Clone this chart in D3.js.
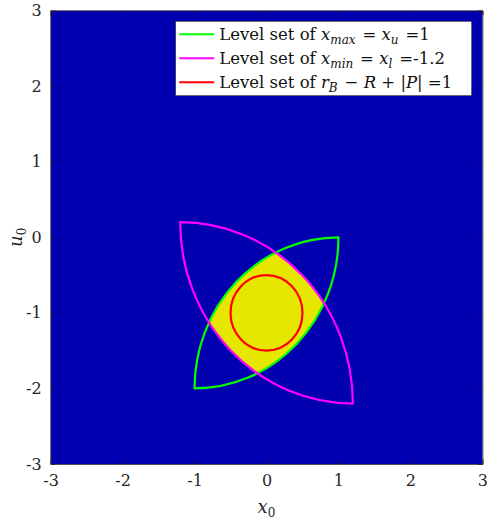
<!DOCTYPE html>
<html>
<head>
<meta charset="utf-8">
<script src="https://cdn.jsdelivr.net/npm/d3@7"></script>
<style>
  body { margin: 0; background: #fff; }
</style>
</head>
<body>
<div id="chart"></div>
<script>
// axis ticks
const xTicks = [-3, -2, -1, 0, 1, 2, 3];
const yTicks = [-3, -2, -1, 0, 1, 2, 3];

// lens corners [x0, u0]
const greenCorners = [[-1, -2], [1, 0]];
const magentaCorners = [[-1.2, 0.2], [1.2, -2.2]];

// circle r_B - R + |P| = 1
const circleCenter = [0, -1];
const circleRadius = 0.5;

const legendItems = [
  {color: '#00ff00', pre: 'Level set of ', math: [['x', 'max'], ' = ', ['x', 'u']], post: ' =1'},
  {color: '#ff00ff', pre: 'Level set of ', math: [['x', 'min'], ' = ', ['x', 'l']], post: ' =-1.2'},
  {color: '#ff0000', pre: 'Level set of ', math: [['r', 'B'], ' \u2212 ', ['R', ''], ' + |', ['P', ''], '|'], post: ' =1'}
];

const serif = '"DejaVu Serif", serif';

const width = 488;
const height = 525;
const margin = {top: 10.6, right: 5.6, bottom: 61, left: 50.6};

const svg = d3.select('#chart')
    .append('svg')
    .attr('width', width)
    .attr('height', height)
    .style('font-family', serif);

const x = d3.scaleLinear()
    .domain([-3, 3])
    .range([margin.left, width - margin.right]);
const y = d3.scaleLinear()
    .domain([-3, 3])
    .range([height - margin.bottom, margin.top]);

// background
svg.append('rect')
    .attr('x', x(-3))
    .attr('y', y(3))
    .attr('width', x(3) - x(-3))
    .attr('height', y(-3) - y(3))
    .attr('fill', '#0000b0');

// lens made of two quarter ellipses between its two corners
function lensPath(c) {
  const a = c[0];
  const b = c[1];
  const rx = Math.abs(x(b[0]) - x(a[0]));
  const ry = Math.abs(y(b[1]) - y(a[1]));
  return 'M' + x(a[0]) + ',' + y(a[1]) +
    'A' + rx + ',' + ry + ' 0 0 1 ' + x(b[0]) + ',' + y(b[1]) +
    'A' + rx + ',' + ry + ' 0 0 1 ' + x(a[0]) + ',' + y(a[1]) + 'Z';
}

svg.append('clipPath')
    .attr('id', 'magClip')
    .append('path')
    .attr('d', lensPath(magentaCorners));

svg.append('path')
    .attr('d', lensPath(greenCorners))
    .attr('fill', '#e6e600')
    .attr('clip-path', 'url(#magClip)');

svg.append('path')
    .attr('d', lensPath(greenCorners))
    .attr('fill', 'none')
    .attr('stroke', '#00ff00')
    .attr('stroke-width', 2.2)
    .attr('stroke-linejoin', 'round');

svg.append('path')
    .attr('d', lensPath(magentaCorners))
    .attr('fill', 'none')
    .attr('stroke', '#ff00ff')
    .attr('stroke-width', 2.2)
    .attr('stroke-linejoin', 'round');

svg.append('ellipse')
    .attr('cx', x(circleCenter[0]))
    .attr('cy', y(circleCenter[1]))
    .attr('rx', x(circleRadius) - x(0))
    .attr('ry', y(0) - y(circleRadius))
    .attr('fill', 'none')
    .attr('stroke', '#ff0000')
    .attr('stroke-width', 2.2);

// axes with inward ticks on all sides
const tickLen = 4.5;
const axisColor = '#262626';
const fmt = function(d) {
  return String(d);
};

const gx = svg.append('g')
    .attr('transform', 'translate(0,' + y(-3) + ')')
    .call(d3.axisBottom(x).tickValues(xTicks).tickSize(-tickLen).tickPadding(11).tickFormat(fmt));
const gxt = svg.append('g')
    .attr('transform', 'translate(0,' + y(3) + ')')
    .call(d3.axisTop(x).tickValues(xTicks).tickSize(-tickLen).tickFormat(''));
const gy = svg.append('g')
    .attr('transform', 'translate(' + x(-3) + ',0)')
    .call(d3.axisLeft(y).tickValues(yTicks).tickSize(-tickLen).tickPadding(9).tickFormat(fmt));
const gyr = svg.append('g')
    .attr('transform', 'translate(' + x(3) + ',0)')
    .call(d3.axisRight(y).tickValues(yTicks).tickSize(-tickLen).tickFormat(''));

[gx, gxt, gy, gyr].forEach(function(g) {
  g.attr('font-family', serif);
  g.select('.domain').attr('stroke', axisColor).attr('stroke-width', 0.8);
  g.selectAll('.tick line').attr('stroke', axisColor).attr('stroke-width', 0.6);
  g.selectAll('.tick text')
      .attr('fill', axisColor)
      .style('font-size', '16px')
      .style('font-family', serif);
});

// axis labels
const xl = svg.append('text')
    .attr('x', x(0))
    .attr('y', 513)
    .attr('text-anchor', 'middle')
    .attr('fill', axisColor)
    .style('font-family', serif)
    .style('font-size', '18px');
xl.append('tspan').style('font-style', 'italic').text('x');
xl.append('tspan').attr('dy', 4).style('font-size', '12px').text('0');

const yl = svg.append('text')
    .attr('transform', 'translate(22,' + y(0) + ') rotate(-90)')
    .attr('text-anchor', 'middle')
    .attr('fill', axisColor)
    .style('font-family', serif)
    .style('font-size', '18px');
yl.append('tspan').style('font-style', 'italic').text('u');
yl.append('tspan').attr('dy', 4).style('font-size', '12px').text('0');

// legend
const legend = svg.append('g')
    .attr('transform', 'translate(175.7,21.3)');

legend.append('rect')
    .attr('width', 296)
    .attr('height', 74.4)
    .attr('fill', '#fff')
    .attr('stroke', '#333')
    .attr('stroke-width', 0.6);

legendItems.forEach(function(d, i) {
  const rowY = 13 + i * 24;
  legend.append('line')
      .attr('x1', 3.5)
      .attr('x2', 38.5)
      .attr('y1', rowY)
      .attr('y2', rowY)
      .attr('stroke', d.color)
      .attr('stroke-width', 2);
  const t = legend.append('text')
      .attr('x', 43.5)
      .attr('y', rowY + 5.5)
      .style('font-family', serif)
      .style('font-size', '16.5px')
      .attr('fill', '#111');
  t.append('tspan').text(d.pre);
  d.math.forEach(function(m) {
    if (typeof m === 'string') {
      t.append('tspan').text(m);
    } else {
      t.append('tspan').style('font-style', 'italic').text(m[0]);
      if (m[1]) {
        t.append('tspan')
            .style('font-style', 'italic')
            .style('font-size', '12px')
            .attr('dy', 4)
            .text(m[1]);
        t.append('tspan').attr('dy', -4).text('\u200a');
      }
    }
  });
  t.append('tspan').text(d.post);
});
</script>
</body>
</html>
